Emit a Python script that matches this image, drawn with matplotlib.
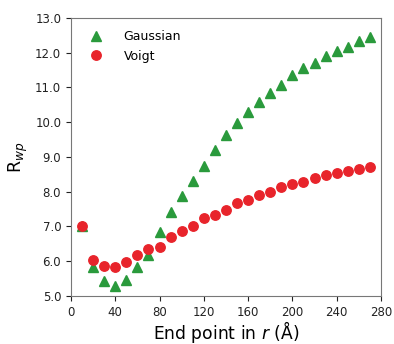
import matplotlib
matplotlib.use("Agg")
import matplotlib.pyplot as plt

# End point in r (Å)
r_end = [10, 20, 30, 40, 50, 60, 70, 80, 90, 100, 110, 120, 130, 140,
         150, 160, 170, 180, 190, 200, 210, 220, 230, 240, 250, 260, 270]

rwp_gaussian = [7.0, 5.83, 5.43, 5.27, 5.47, 5.83, 6.18, 6.85, 7.4, 7.88,
                8.3, 8.73, 9.2, 9.62, 9.97, 10.3, 10.57, 10.83, 11.07, 11.35,
                11.55, 11.7, 11.9, 12.05, 12.17, 12.33, 12.45]

rwp_voigt = [7.0, 6.04, 5.85, 5.82, 5.96, 6.17, 6.35, 6.42, 6.68, 6.86,
             7.0, 7.25, 7.34, 7.47, 7.66, 7.77, 7.9, 7.99, 8.12, 8.22,
             8.29, 8.39, 8.47, 8.54, 8.6, 8.64, 8.7]

xticks = [0, 40, 80, 120, 160, 200, 240, 280]
yticks = [5.0, 6.0, 7.0, 8.0, 9.0, 10.0, 11.0, 12.0, 13.0]

fig = plt.figure(figsize=(3.94, 3.44), dpi=100)
ax = fig.add_axes([0.18, 0.14, 0.787, 0.808])

ax.plot(r_end, rwp_gaussian, "^", color="#2a9a3c", markersize=6.5, label="Gaussian")
ax.plot(r_end, rwp_voigt, "o", color="#e8242b", markersize=6.8, label="Voigt")

ax.set_xlim(0, 280)
ax.set_ylim(5.0, 13.0)
ax.set_xticks(xticks)
ax.set_yticks(yticks)
ax.set_yticklabels([f"{v:.1f}" for v in yticks])
ax.tick_params(labelsize=8.5, colors="#222222", length=3.5)

for s in ax.spines.values():
    s.set_color("#777777")

ax.set_xlabel("End point in $r$ (Å)", fontsize=12.3, labelpad=0.5)
ax.set_ylabel("R$_{wp}$", fontsize=12.5)

ax.legend(loc="upper left", frameon=False, fontsize=9, handletextpad=1.2,
          borderaxespad=0.6)

fig.savefig("out.png", dpi=100)
